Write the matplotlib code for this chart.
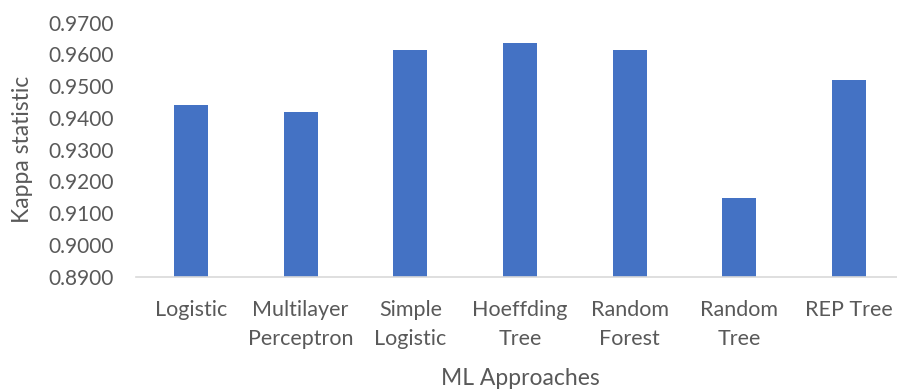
import matplotlib.pyplot as plt

# Kappa statistic per ML approach
approaches = ['Logistic', 'Multilayer\nPerceptron', 'Simple\nLogistic', 'Hoeffding\nTree',
              'Random\nForest', 'Random\nTree', 'REP Tree']
kappa = [0.9440, 0.9420, 0.9615, 0.9635, 0.9615, 0.9147, 0.9519]
yticks = [0.89, 0.90, 0.91, 0.92, 0.93, 0.94, 0.95, 0.96, 0.97]

plt.rcParams['font.family'] = ['Lato', 'DejaVu Sans']
text_color = '#595959'

fig = plt.figure(figsize=(8.97, 3.92), dpi=100)
W, H = 897, 392
ax = fig.add_axes([136 / W, (H - 276.7) / H, (904 - 136) / W, (276.7 - 22.7) / H])

x = range(len(approaches))
ax.bar(x, kappa, width=0.31, color='#4472C4', zorder=2)

ax.set_xlim(-0.5, len(approaches) - 0.5)
ax.set_ylim(0.89, 0.97)
ax.set_yticks(yticks)
ax.set_yticklabels(['%.4f' % v for v in yticks])
ax.set_xticks(list(x))
ax.set_xticklabels(approaches, linespacing=1.6)

for side in ['top', 'right', 'left']:
    ax.spines[side].set_visible(False)
ax.spines['bottom'].set_color('#D9D9D9')
ax.spines['bottom'].set_linewidth(1.2)

ax.tick_params(axis='y', length=0, pad=16, labelsize=15, labelcolor=text_color)
ax.tick_params(axis='x', length=0, pad=16.5, labelsize=15.5, labelcolor=text_color)

ax.set_ylabel('Kappa statistic', fontsize=16.5, color=text_color)
ax.yaxis.set_label_coords(-0.134, 0.5)
ax.set_xlabel('ML Approaches', fontsize=16.5, color=text_color)
ax.xaxis.set_label_coords(0.5, -0.36)

plt.savefig('out.png', dpi=100)
